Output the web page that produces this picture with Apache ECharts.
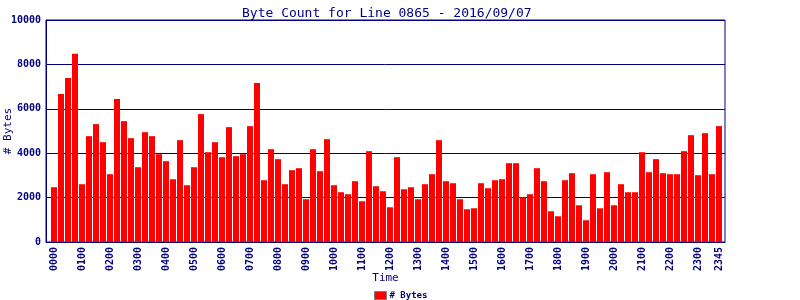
<!DOCTYPE html>
<html>
<head>
<meta charset="utf-8">
<script src="https://cdn.jsdelivr.net/npm/echarts@6/dist/echarts.min.js"></script>
<style>html,body{margin:0;padding:0;background:#fff}#c{width:800px;height:300px}</style>
</head>
<body>
<div id="c"></div>
<script>
const titleText = 'Byte Count for Line 0865 - 2016/09/07';
const seriesName = '# Bytes';
const bytes = [
  2467, 6662, 7384, 8481, 2603, 4768, 5309, 4497, 3054, 6437, 5444, 4677,
  3369, 4948, 4768, 3956, 3640, 2828, 4587, 2557, 3369, 5760, 4046, 4497,
  3820, 5174, 3866, 3956, 5219, 7158, 2783, 4181, 3730, 2603, 3234, 3324,
  1926, 4181, 3189, 4632, 2557, 2242, 2152, 2738, 1836, 4091, 2512, 2287,
  1565, 3820, 2377, 2467, 1926, 2603, 3054, 4587, 2738, 2648, 1926, 1475,
  1520, 2648, 2422, 2783, 2828, 3550, 3550, 2016, 2152, 3324, 2738, 1385,
  1159, 2783, 3099, 1655, 979, 3054, 1520, 3144, 1655, 2603, 2242, 2242,
  4046, 3144, 3730, 3099, 3054, 3054, 4091, 4813, 3009, 4903, 3054, 5219
];
const tickIndex = [0,4,8,12,16,20,24,28,32,36,40,44,48,52,56,60,64,68,72,76,80,84,88,92,95];
const tickLabels = ['0000','0100','0200','0300','0400','0500','0600','0700','0800','0900','1000','1100',
  '1200','1300','1400','1500','1600','1700','1800','1900','2000','2100','2200','2300','2345'];
const yTicks = [0, 2000, 4000, 6000, 8000, 10000];

const navy = '#000080';
const font = 'DejaVu Sans Mono';
const chart = echarts.init(document.getElementById('c'), null, {renderer: 'canvas'});
chart.setOption({
  animation: false,
  backgroundColor: '#fff',
  title: {
    text: titleText, left: 237, top: 2,
    textStyle: {color: navy, fontFamily: font, fontSize: 13, fontWeight: 'normal'}
  },
  legend: {
    data: [seriesName], left: 374, top: 291, padding: 0, itemWidth: 12, itemHeight: 8, itemGap: 4,
    icon: 'rect',
    itemStyle: {borderColor: '#808080', borderWidth: 1},
    textStyle: {color: navy, fontFamily: font, fontSize: 9, fontWeight: 'bold', padding: [0,0,0,-2]}
  },
  grid: {left: 46, right: 75, top: 20, bottom: 58, show: true, borderColor: navy, borderWidth: 1,
    backgroundColor: 'transparent', containLabel: false, outerBoundsMode: 'none'},
  xAxis: {
    type: 'value', min: -8/7, max: 671/7,
    name: 'Time', nameLocation: 'middle', nameGap: 31, nameMoveOverlap: false,
    nameTextStyle: {color: navy, fontFamily: font, fontSize: 11},
    axisLine: {show: true, onZero: false, lineStyle: {color: navy, width: 1}},
    axisTick: {show: false},
    splitLine: {show: false},
    axisLabel: {
      customValues: tickIndex, rotate: 90, margin: 5,
      color: navy, fontFamily: font, fontSize: 10, fontWeight: 'bold',
      formatter: v => tickLabels[tickIndex.indexOf(Math.round(v))] || ''
    }
  },
  yAxis: {
    type: 'value', min: 0, max: 10000, interval: 2000,
    name: '# Bytes', nameLocation: 'middle', nameGap: 32, nameRotate: 90, nameMoveOverlap: false,
    nameTextStyle: {color: navy, fontFamily: font, fontSize: 11},
    axisLine: {show: true, onZero: false, lineStyle: {color: navy, width: 1}},
    axisTick: {show: false},
    splitLine: {show: true, lineStyle: {color: navy, width: 1}},
    axisLabel: {color: navy, fontFamily: font, fontSize: 10, fontWeight: 'bold', margin: 5,
      formatter: v => yTicks.includes(v) ? String(v) : ''}
  },
  series: [{
    name: seriesName, type: 'bar', barWidth: 6,
    itemStyle: {color: '#ff0000'},
    data: bytes.map((v, i) => [i, v])
  }]
});
</script>
</body>
</html>
